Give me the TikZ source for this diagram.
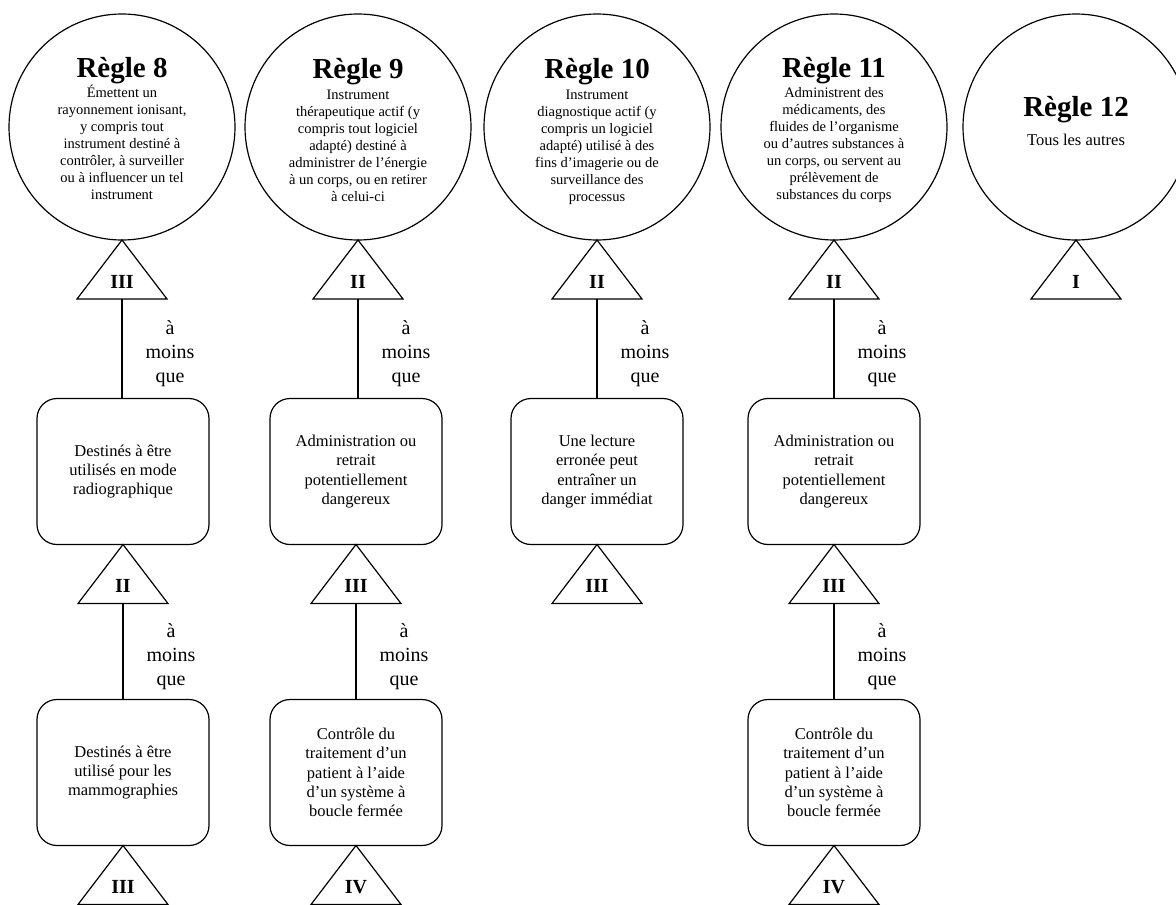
\documentclass[tikz,border=0pt]{standalone}
\usepackage{fontspec}
\setmainfont{Liberation Serif}
\usetikzlibrary{positioning, calc}
\tikzset{%
	regle/.style={draw, circle, minimum size=226pt, inner sep=0pt, outer sep=0pt, line width=1.2pt},
	titre/.style={font=\fontsize{29}{32}\selectfont\bfseries, inner sep=0pt},
	descr/.style={align=center, font=\fontsize{14.5}{17}\selectfont, inner sep=0pt},
	cas/.style={draw, rectangle, rounded corners=20pt, minimum width=172pt, minimum height=146pt,%
		outer sep=0pt, align=center, font=\fontsize{16.5}{19.3}\selectfont, line width=1.2pt},
	classe/.style={font=\fontsize{20}{22}\selectfont\bfseries, inner sep=0pt},
	sauf/.style={align=center, font=\fontsize{20}{24}\selectfont, inner sep=0pt, xshift=48pt, yshift=-5pt},
	lien/.style={line width=2.6pt},
	tri/.style={line width=1.2pt, line join=miter}
}
% triangle de classe sous un noeud : nom, noeud du dessus, classe
\newcommand{\triclasse}[3]{%
	\draw[tri] (#2.south) -- ++(-45,-59) -- ++(90,0) -- cycle;
	\node[classe, anchor=base] (#1) at ($(#2.south)+(0,-48)$) {#3};
	\coordinate (#1-b) at ($(#2.south)+(0,-59)$);
}

\begin{document}
\begin{tikzpicture}[x=1pt, y=1pt]
	\useasboundingbox (0,0) rectangle (1176,-905);

	% les regles
	\node[regle] (regle8) at (122,-127) {};
	\node[regle] (regle9) at (358,-127) {};
	\node[regle] (regle10) at (597,-127) {};
	\node[regle] (regle11) at (834,-127) {};
	\node[regle] (regle12) at (1076,-127) {};

	\node[titre, anchor=base] (titre8) at (122,-77) {Règle 8};
	\node[titre, anchor=base] (titre9) at (358,-78) {Règle 9};
	\node[titre, anchor=base] (titre10) at (597,-78) {Règle 10};
	\node[titre, anchor=base] (titre11) at (834,-77) {Règle 11};
	\node[titre, anchor=base] (titre12) at (1076,-116) {Règle 12};

	\node[descr, anchor=north] (desc8) at (122,-85) {Émettent un\\rayonnement ionisant,\\y compris tout\\instrument destiné à\\contrôler, à surveiller\\ou à influencer un tel\\instrument};
	\node[descr, anchor=north] (desc9) at (358,-90) {Instrument\\thérapeutique actif (y\\compris tout logiciel\\adapté) destiné à\\administrer de l'énergie\\à un corps, ou en retirer\\à celui-ci};
	\node[descr, anchor=north] (desc10) at (597,-90) {Instrument\\diagnostique actif (y\\compris un logiciel\\adapté) utilisé à des\\fins d'imagerie ou de\\surveillance des\\processus};
	\node[descr, anchor=north] (desc11) at (834,-87) {Administrent des\\médicaments, des\\fluides de l'organisme\\ou d'autres substances à\\un corps, ou servent au\\prélèvement de\\substances du corps};
	\node[descr, anchor=north, font=\fontsize{16.5}{19}\selectfont] (desc12) at (1076,-134) {Tous les autres};

	% classes sous les regles
	\triclasse{cl8}{regle8}{III}
	\triclasse{cl9}{regle9}{II}
	\triclasse{cl10}{regle10}{II}
	\triclasse{cl11}{regle11}{II}
	\triclasse{cl12}{regle12}{I}

	% exceptions
	\node[cas] (cas8a) at (123,-471.5) {Destinés à être\\utilisés en mode\\radiographique};
	\node[cas] (cas9a) at (356,-471.5) {Administration ou\\retrait\\potentiellement\\dangereux};
	\node[cas] (cas10a) at (597,-471.5) {Une lecture\\erronée peut\\entraîner un\\danger immédiat};
	\node[cas] (cas11a) at (834,-471.5) {Administration ou\\retrait\\potentiellement\\dangereux};

	\draw[lien] (cl8-b) -- node[sauf] (sauf8a) {à\\moins\\que} (cl8-b |- cas8a.north);
	\draw[lien] (cl9-b) -- node[sauf] (sauf9a) {à\\moins\\que} (cl9-b |- cas9a.north);
	\draw[lien] (cl10-b) -- node[sauf] (sauf10a) {à\\moins\\que} (cl10-b |- cas10a.north);
	\draw[lien] (cl11-b) -- node[sauf] (sauf11a) {à\\moins\\que} (cl11-b |- cas11a.north);

	\triclasse{cl8a}{cas8a}{II}
	\triclasse{cl9a}{cas9a}{III}
	\triclasse{cl10a}{cas10a}{III}
	\triclasse{cl11a}{cas11a}{III}

	% deuxieme niveau
	\node[cas] (cas8b) at (123,-772.5) {Destinés à être\\utilisé pour les\\mammographies};
	\node[cas] (cas9b) at (356,-772.5) {Contrôle du\\traitement d'un\\patient à l'aide\\d'un système à\\boucle fermée};
	\node[cas] (cas11b) at (834,-772.5) {Contrôle du\\traitement d'un\\patient à l'aide\\d'un système à\\boucle fermée};

	\draw[lien] (cl8a-b) -- node[sauf] (sauf8b) {à\\moins\\que} (cl8a-b |- cas8b.north);
	\draw[lien] (cl9a-b) -- node[sauf] (sauf9b) {à\\moins\\que} (cl9a-b |- cas9b.north);
	\draw[lien] (cl11a-b) -- node[sauf] (sauf11b) {à\\moins\\que} (cl11a-b |- cas11b.north);

	\triclasse{cl8b}{cas8b}{III}
	\triclasse{cl9b}{cas9b}{IV}
	\triclasse{cl11b}{cas11b}{IV}
\end{tikzpicture}
\end{document}
